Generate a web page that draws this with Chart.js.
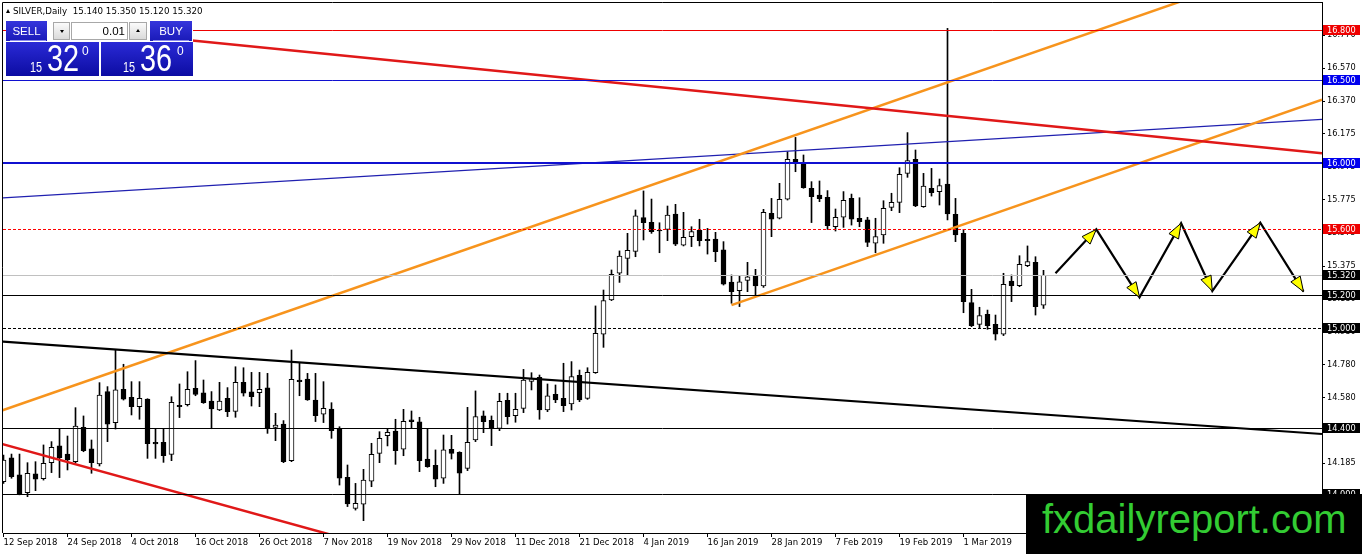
<!DOCTYPE html>
<html><head><meta charset="utf-8">
<script src="https://cdn.jsdelivr.net/npm/chart.js@4.4.1/dist/chart.umd.min.js"></script>
<style>
html,body{margin:0;padding:0;background:#fff;overflow:hidden}
#wrap{position:relative;width:1362px;height:554px;}
#c{position:absolute;left:0;top:0}
.abs{position:absolute}
#hdr{left:6px;top:6px;font:8.7px 'DejaVu Sans';line-height:10px;white-space:pre;color:#000}
.tri{display:inline-block;width:0;height:0;border-left:2px solid transparent;border-right:2px solid transparent;border-bottom:4px solid #000;vertical-align:1px;margin-right:3px}
#panel{left:6px;top:20px;width:187px;height:57px;background:#fff}
.btn{position:absolute;top:1px;height:20px;background:linear-gradient(#3535dc,#1a1ab8);color:#fff;font:11.5px 'Liberation Sans',Arial,sans-serif;line-height:20px;text-align:center}
.sep{position:absolute;top:20px;height:1px;background:#8a8aee}
.big{position:absolute;top:22px;height:34px;background:linear-gradient(#2a2ad6,#0c0ca2);color:#fff;font-family:'Liberation Sans',Arial,sans-serif}
.big span{position:absolute;white-space:pre;transform-origin:0 0}
.ctl{position:absolute;top:2px;height:18px;box-sizing:border-box;border:1px solid #a8a8a8}
.arrbtn{background:linear-gradient(#fbfbfb,#dadada)}
.dn{position:absolute;left:6px;top:7px;width:0;height:0;border-left:2.5px solid transparent;border-right:2.5px solid transparent;border-top:3px solid #000}
.up{position:absolute;left:6px;top:6px;width:0;height:0;border-left:2.5px solid transparent;border-right:2.5px solid transparent;border-bottom:3px solid #000}
#wm{left:1026px;top:494px;width:336px;height:60px;background:#000}
#wm span{position:absolute;left:16px;top:5px;font:40px 'Liberation Sans',Arial,sans-serif;line-height:40px;color:#33cc33;white-space:pre}
</style></head><body>
<div id="wrap">
<canvas id="c" width="1362" height="554"></canvas>
<div id="hdr" class="abs"><i class="tri"></i>SILVER,Daily  15.140 15.350 15.120 15.320</div>
<div id="panel" class="abs">
  <div class="btn" style="left:0;width:41px">SELL</div>
  <div class="sep" style="left:4px;width:36px"></div>
  <div class="ctl arrbtn" style="left:47px;width:17px"><i class="dn"></i></div>
  <div class="ctl" style="left:65px;width:57px;background:#fff;font:11.5px 'Liberation Sans',Arial,sans-serif;line-height:16px;text-align:right;padding-right:2px">0.01</div>
  <div class="ctl arrbtn" style="left:123px;width:18px"><i class="up"></i></div>
  <div class="btn" style="left:144px;width:42px">BUY</div>
  <div class="sep" style="left:147px;width:36px"></div>
  <div class="big" style="left:0;width:93px">
    <span style="left:24px;top:17px;font-size:15px;line-height:15px;transform:scaleX(0.72)">15</span>
    <span style="left:40.5px;top:-1.7px;font-size:37px;line-height:37px;transform:scaleX(0.78)">32</span>
    <span style="left:76px;top:2.8px;font-size:12px;line-height:12px">0</span>
  </div>
  <div class="big" style="left:95px;width:92px">
    <span style="left:22px;top:17px;font-size:15px;line-height:15px;transform:scaleX(0.72)">15</span>
    <span style="left:39px;top:-1.7px;font-size:37px;line-height:37px;transform:scaleX(0.78)">36</span>
    <span style="left:76px;top:2.8px;font-size:12px;line-height:12px">0</span>
  </div>
</div>
<div id="wm" class="abs"><span>fxdailyreport.com</span></div>
</div>
<script>
// ---- bar dates (trading days) ----
const dates = [
 "2018.09.12","2018.09.13","2018.09.14","2018.09.17","2018.09.18","2018.09.19","2018.09.20","2018.09.21","2018.09.24","2018.09.25","2018.09.26","2018.09.27","2018.09.28",
 "2018.10.01","2018.10.02","2018.10.03","2018.10.04","2018.10.05","2018.10.08","2018.10.09","2018.10.10","2018.10.11","2018.10.12","2018.10.15","2018.10.16","2018.10.17","2018.10.18","2018.10.19","2018.10.22","2018.10.23","2018.10.24","2018.10.25","2018.10.26","2018.10.29","2018.10.30","2018.10.31",
 "2018.11.01","2018.11.02","2018.11.05","2018.11.06","2018.11.07","2018.11.08","2018.11.09","2018.11.12","2018.11.13","2018.11.14","2018.11.15","2018.11.16","2018.11.19","2018.11.20","2018.11.21","2018.11.22","2018.11.23","2018.11.26","2018.11.27","2018.11.28","2018.11.29","2018.11.30",
 "2018.12.03","2018.12.04","2018.12.05","2018.12.06","2018.12.07","2018.12.10","2018.12.11","2018.12.12","2018.12.13","2018.12.14","2018.12.17","2018.12.18","2018.12.19","2018.12.20","2018.12.21","2018.12.24","2018.12.26","2018.12.27","2018.12.28","2018.12.31",
 "2019.01.02","2019.01.03","2019.01.04","2019.01.07","2019.01.08","2019.01.09","2019.01.10","2019.01.11","2019.01.14","2019.01.15","2019.01.16","2019.01.17","2019.01.18","2019.01.21","2019.01.22","2019.01.23","2019.01.24","2019.01.25","2019.01.28","2019.01.29","2019.01.30","2019.01.31",
 "2019.02.01","2019.02.04","2019.02.05","2019.02.06","2019.02.07","2019.02.08","2019.02.11","2019.02.12","2019.02.13","2019.02.14","2019.02.15","2019.02.18","2019.02.19","2019.02.20","2019.02.21","2019.02.22","2019.02.25","2019.02.26","2019.02.27","2019.02.28",
 "2019.03.01","2019.03.04","2019.03.05","2019.03.06","2019.03.07","2019.03.08","2019.03.11","2019.03.12","2019.03.13","2019.03.14","2019.03.15"
];
// ---- OHLC ----
const open = [14.074,14.219,14.115,14.008,14.121,14.093,14.189,14.290,14.241,14.195,14.402,14.272,14.181,
 14.618,14.431,14.632,14.583,14.527,14.573,14.312,14.312,14.239,14.535,14.539,14.638,14.610,14.561,14.507,14.577,14.499,14.674,14.616,14.612,14.640,14.402,14.422,
 14.201,14.688,14.694,14.567,14.481,14.513,14.396,14.101,13.913,13.938,14.078,14.245,14.352,14.380,14.270,14.447,14.435,14.211,14.173,14.095,14.270,14.251,
 14.155,14.326,14.471,14.445,14.396,14.565,14.473,14.517,14.680,14.704,14.507,14.601,14.577,14.543,14.716,14.577,14.732,14.964,15.171,15.332,
 15.422,15.464,15.668,15.640,15.593,15.597,15.690,15.501,15.553,15.593,15.537,15.539,15.473,15.279,15.227,15.289,15.316,15.255,15.694,15.664,15.780,16.020,
 15.996,15.845,15.804,15.790,15.613,15.670,15.784,15.664,15.654,15.513,15.563,15.730,15.760,15.935,16.020,15.734,15.845,15.825,15.871,15.688,
 15.573,15.155,15.024,15.084,15.024,14.964,15.285,15.257,15.378,15.398,15.140];
const high = [14.235,14.241,14.241,14.189,14.195,14.296,14.316,14.394,14.350,14.521,14.471,14.326,14.672,
 14.648,14.873,14.783,14.678,14.678,14.575,14.392,14.392,14.587,14.664,14.738,14.805,14.688,14.618,14.674,14.642,14.768,14.762,14.734,14.734,14.728,14.487,14.443,
 14.869,14.793,14.728,14.728,14.678,14.551,14.406,14.175,14.064,14.149,14.306,14.376,14.396,14.451,14.511,14.501,14.463,14.396,14.266,14.356,14.354,14.255,
 14.523,14.622,14.501,14.471,14.608,14.608,14.608,14.752,14.732,14.718,14.664,14.658,14.789,14.799,14.748,14.762,15.135,15.231,15.352,15.467,
 15.573,15.714,15.829,15.780,15.637,15.738,15.748,15.700,15.613,15.658,15.603,15.579,15.523,15.322,15.318,15.398,15.356,15.718,15.784,15.875,16.066,16.152,
 16.046,15.885,15.889,15.831,15.720,15.825,15.810,15.788,15.670,15.664,15.770,15.815,15.969,16.181,16.076,15.935,15.965,15.901,16.810,15.784,
 15.597,15.235,15.127,15.110,15.080,15.332,15.322,15.438,15.497,15.432,15.350];
const low = [14.064,14.095,13.995,13.984,14.020,14.084,14.129,14.099,14.145,14.189,14.255,14.125,14.169,
 14.316,14.392,14.567,14.477,14.451,14.215,14.215,14.191,14.201,14.461,14.531,14.593,14.547,14.394,14.503,14.467,14.463,14.591,14.531,14.527,14.366,14.322,14.189,
 14.195,14.593,14.565,14.437,14.431,14.336,14.054,13.924,13.903,13.839,14.044,14.189,14.290,14.179,14.231,14.396,14.135,14.161,14.044,14.064,14.211,14.000,
 14.141,14.316,14.370,14.292,14.382,14.422,14.433,14.491,14.628,14.451,14.497,14.551,14.497,14.507,14.557,14.571,14.728,14.885,15.167,15.277,
 15.318,15.432,15.533,15.573,15.456,15.529,15.499,15.497,15.493,15.497,15.448,15.402,15.261,15.151,15.131,15.221,15.197,15.247,15.553,15.660,15.774,15.945,
 15.845,15.638,15.764,15.597,15.587,15.609,15.623,15.613,15.493,15.456,15.513,15.710,15.698,15.911,15.734,15.730,15.798,15.744,15.654,15.523,
 15.094,15.010,15.000,14.994,14.929,14.956,15.161,15.251,15.372,15.080,15.120];
const close = [14.205,14.105,13.998,14.125,14.089,14.185,14.282,14.219,14.205,14.410,14.262,14.189,14.597,
 14.422,14.628,14.573,14.527,14.577,14.304,14.302,14.231,14.553,14.527,14.632,14.601,14.551,14.513,14.561,14.497,14.674,14.608,14.587,14.632,14.396,14.416,14.195,
 14.692,14.678,14.567,14.473,14.517,14.382,14.095,13.940,13.944,14.084,14.239,14.336,14.372,14.262,14.439,14.437,14.201,14.165,14.089,14.266,14.245,14.125,
 14.312,14.467,14.437,14.396,14.559,14.467,14.511,14.688,14.696,14.507,14.593,14.567,14.533,14.708,14.567,14.734,14.970,15.167,15.326,15.436,
 15.471,15.678,15.637,15.583,15.587,15.684,15.507,15.549,15.583,15.529,15.529,15.462,15.267,15.221,15.281,15.310,15.255,15.700,15.658,15.778,16.020,16.002,
 15.849,15.794,15.782,15.619,15.670,15.772,15.658,15.644,15.519,15.553,15.724,15.760,15.929,16.012,15.738,15.859,15.819,15.861,15.690,15.563,
 15.161,15.016,15.076,15.016,14.964,15.265,15.257,15.386,15.402,15.131,15.320];

// ---- axis ticks ----
const tickIdx = [0,8,16,24,32,40,48,56,64,72,80,88,96,104,112,120];
const tickLabels = ["12 Sep 2018","24 Sep 2018","4 Oct 2018","16 Oct 2018","26 Oct 2018","7 Nov 2018","19 Nov 2018","29 Nov 2018","11 Dec 2018","21 Dec 2018","4 Jan 2019","16 Jan 2019","28 Jan 2019","7 Feb 2019","19 Feb 2019","1 Mar 2019"];
const yTicks = [16.770,16.570,16.370,16.175,15.975,15.775,15.575,15.375,15.180,14.980,14.780,14.580,14.385,14.185];

// ---- horizontal levels (price) ----
const levels = [16.800,16.500,16.000,15.600,15.320,15.200,15.000,14.400,14.000];

// ---- trend lines: [barIndex, price] endpoints ----
const redUpper   = [[12,16.793],[164.81,16.056]];
const redLower   = [[-0.5,14.306],[41,13.753]];
const blackTrend = [[-0.5,14.921],[164.81,14.362]];
const orangeUp   = [[-0.5,14.499],[148,16.987]];
const orangeLow  = [[91,15.140],[164.81,16.379]];
const blueThin   = [[-0.5,15.786],[164.81,16.261]];

// ---- projected zigzag arrows ----
const arrowX = [131.5,136.6,142.0,147.2,151.1,157.1,162.5];
const arrowY = [15.332,15.597,15.187,15.634,15.225,15.637,15.221];

// ---------- styles ----------
const levelColors = ['#ee0000','#1010d0','#1010d0','#ff0000','#c0c0c0','#000','#000','#000','#000'];
const levelWidths = [1,1,2,1,1,1,1,1,1];
const levelDash = [[],[],[],[3,2],[],[],[3,2],[],[]];
const boxColors = ['#ee0000','#0000ee','#0000ee','#ee0000','#000','#000','#000','#000','#000'];

const xMin = -0.0625, xMax = 164.8125;
const yMin = 13.7646, yMax = 16.9692;

const bodyData = dates.map((d,i)=>({x:i, y:[open[i], close[i]]}));
const wickData = dates.map((d,i)=>({x:i, y:[low[i], high[i]]}));
const bodyColors = dates.map((d,i)=> close[i] >= open[i] ? '#ffffff' : '#000000');

function lineDs(pts, color, w){
  return {type:'line', data: pts.map(p=>({x:p[0], y:p[1]})), borderColor: color, borderWidth: w,
    pointRadius: 0, tension: 0, order: 0, clip: 0, fill: false};
}
function zeroPad(s){ s.paddingTop = 0; s.paddingBottom = 0; s.paddingLeft = 0; s.paddingRight = 0; }

const levelsPlugin = {
  id:'levels',
  afterDatasetsDraw(chart){
    const {ctx, chartArea:ca, scales:{y:ys, x:xs}} = chart;
    ctx.save();
    ctx.beginPath(); ctx.rect(ca.left, ca.top, ca.right-ca.left, ca.bottom-ca.top); ctx.clip();
    levels.forEach((v,i)=>{
      let yp = ys.getPixelForValue(v);
      yp = levelWidths[i] % 2 ? Math.round(yp)+0.5 : Math.round(yp);
      ctx.strokeStyle = levelColors[i]; ctx.lineWidth = levelWidths[i]; ctx.setLineDash(levelDash[i]);
      ctx.beginPath(); ctx.moveTo(ca.left, yp); ctx.lineTo(ca.right, yp); ctx.stroke();
    });
    ctx.setLineDash([]);
    // arrowheads
    for (let i=0;i<arrowX.length-1;i++){
      const x0 = xs.getPixelForValue(arrowX[i]), y0 = ys.getPixelForValue(arrowY[i]);
      const x1 = xs.getPixelForValue(arrowX[i+1]), y1 = ys.getPixelForValue(arrowY[i+1]);
      const a = Math.atan2(y1-y0, x1-x0), L = 15, W = 5.5;
      const bx = x1 - L*Math.cos(a), by = y1 - L*Math.sin(a);
      ctx.beginPath();
      ctx.moveTo(x1, y1);
      ctx.lineTo(bx + W*Math.sin(a), by - W*Math.cos(a));
      ctx.lineTo(bx - W*Math.sin(a), by + W*Math.cos(a));
      ctx.closePath();
      ctx.fillStyle = '#ffff00'; ctx.fill();
      ctx.strokeStyle = '#000'; ctx.lineWidth = 1; ctx.stroke();
    }
    ctx.restore();
    // frame (left + top)
    ctx.save(); ctx.strokeStyle='#000'; ctx.lineWidth=1;
    ctx.beginPath(); ctx.moveTo(ca.left-0.5, ca.bottom); ctx.lineTo(ca.left-0.5, ca.top+0.5); ctx.lineTo(ca.right, ca.top+0.5); ctx.stroke();
    ctx.restore();
  },
  afterDraw(chart){
    const {ctx, chartArea:ca, scales:{y:ys}} = chart;
    ctx.save();
    ctx.font = '8.2px "DejaVu Sans"'; ctx.textBaseline='middle'; ctx.textAlign='left';
    levels.forEach((v,i)=>{
      const yp = ys.getPixelForValue(v);
      ctx.fillStyle = boxColors[i];
      ctx.fillRect(ca.right+1, Math.round(yp)-5, 37, 10);
      ctx.fillStyle = '#fff';
      ctx.fillText(v.toFixed(3), ca.right+5, Math.round(yp)+0.5);
    });
    ctx.restore();
  }
};

new Chart(document.getElementById('c'), {
  type:'bar',
  data:{ datasets:[
    lineDs(redUpper,'#e01818',2.5),
    lineDs(redLower,'#e01818',2.5),
    lineDs(blackTrend,'#000000',2.2),
    lineDs(orangeUp,'#f7941d',2.5),
    lineDs(orangeLow,'#f7941d',2.5),
    lineDs(blueThin,'#2020b0',1.2),
    {type:'line', data: arrowX.map((x,i)=>({x, y: arrowY[i]})), borderColor:'#000', borderWidth:2.2, pointRadius:0, tension:0, order:0, clip:0},
    {type:'bar', data: bodyData, backgroundColor: bodyColors, borderColor:'#000', borderWidth:1, borderSkipped:false, barThickness:5, grouped:false, order:1},
    {type:'bar', data: wickData, backgroundColor:'#000', borderWidth:0, barThickness:1, grouped:false, order:2}
  ]},
  options:{
    responsive:false, animation:false, events:[],
    layout:{padding:{left:3, top:2, right:0, bottom:0}},
    plugins:{legend:{display:false}, tooltip:{enabled:false}},
    scales:{
      x:{type:'linear', min:xMin, max:xMax, offset:false,
        afterBuildTicks: s => { s.ticks = tickIdx.map(v=>({value:v})); },
        afterFit: s => { s.height = 21; zeroPad(s); },
        grid:{display:true, drawOnChartArea:false, offset:false, tickLength:4, color:'#000', tickColor:'#000'},
        border:{display:true, color:'#000', width:1},
        ticks:{align:'start', autoSkip:false, maxRotation:0, padding:1, color:'#000',
          font:{family:'DejaVu Sans', size:8.5}, callback:(v,i)=> tickLabels[i]}
      },
      y:{type:'linear', position:'right', min:yMin, max:yMax, beginAtZero:false,
        afterBuildTicks: s => { s.ticks = yTicks.map(v=>({value:v})); },
        afterFit: s => { s.width = 40; zeroPad(s); },
        grid:{display:true, drawOnChartArea:false, tickLength:3, color:'#000', tickColor:'#000'},
        border:{display:true, color:'#000', width:1},
        ticks:{autoSkip:false, padding:2, color:'#000', font:{family:'DejaVu Sans', size:8.2},
          callback: v => Number(v).toFixed(3)}
      }
    }
  },
  plugins:[levelsPlugin]
});
</script>
</body></html>
